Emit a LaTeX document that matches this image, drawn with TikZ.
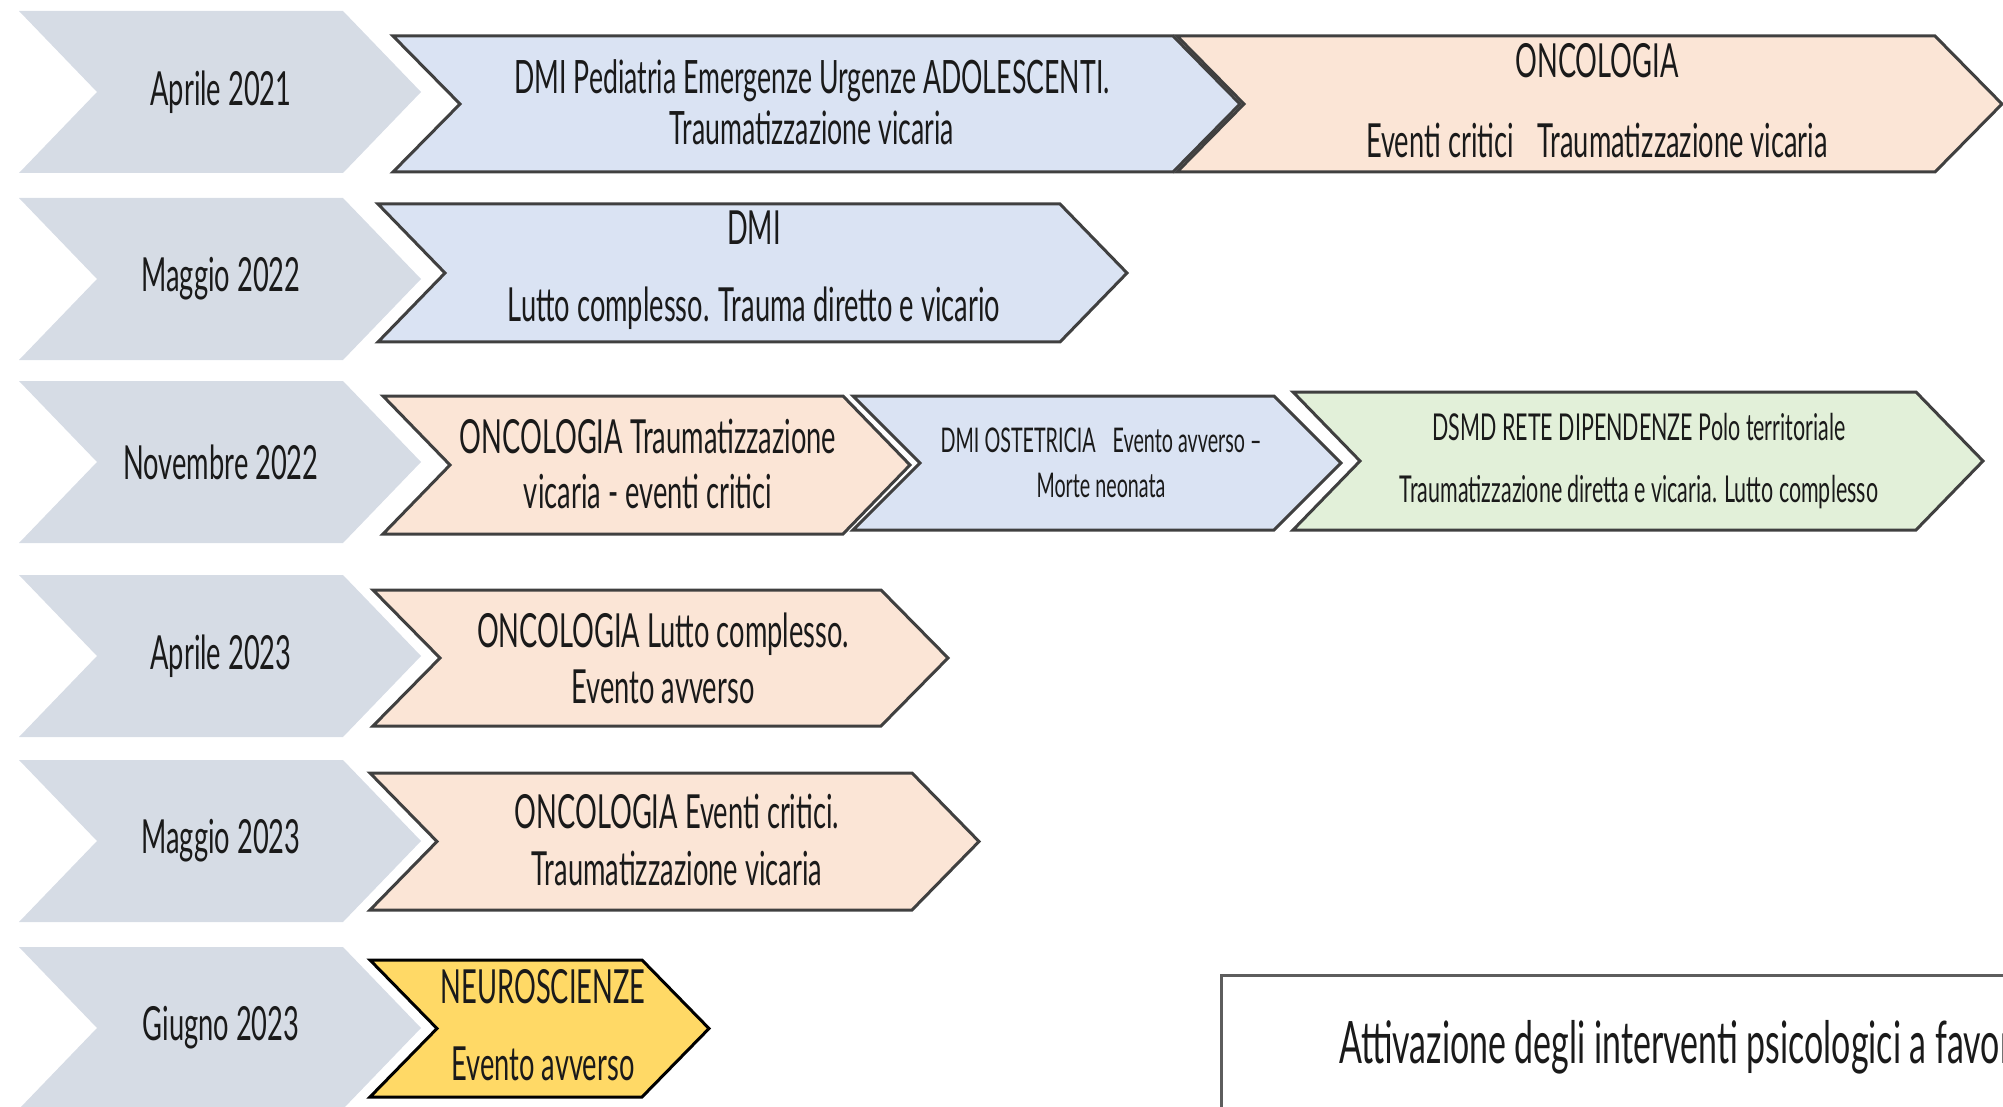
\documentclass[tikz,border=0pt]{standalone}
\usepackage{fontspec}
\setmainfont{Lato}[FakeStretch=0.58]
\definecolor{dategray}{HTML}{D6DCE5}
\definecolor{unitblue}{HTML}{DAE3F3}
\definecolor{unitorange}{HTML}{FBE5D6}
\definecolor{unitgreen}{HTML}{E2F0D9}
\definecolor{unityellow}{HTML}{FFD966}
\definecolor{rimgray}{HTML}{404040}
\definecolor{bodytext}{HTML}{1A1A1A}

\begin{document}
\begin{tikzpicture}[x=1pt, y=-1pt,
    datetext/.style={inner sep=0pt, text=bodytext, font=\fontsize{47}{54}\selectfont},
    boxtext/.style 2 args={inner sep=0pt, align=center, text=bodytext, font=\fontsize{#1}{#2}\selectfont},
    chevbox/.style={line width=3pt, line join=miter}]
    \useasboundingbox (0,0) rectangle (2003,1107);
    \clip (0,0) rectangle (2003,1107);

    % Date chevrons
    \foreach \yc/\lbl [count=\i] in {92/Aprile 2021, 279/Maggio 2022, 462/Novembre 2022, 656/Aprile 2023, 841/Maggio 2023, 1028/Giugno 2023} {
        \fill[dategray] (19,\yc-81) -- (343,\yc-81) -- (421,\yc) -- (343,\yc+81) -- (19,\yc+81) -- (97,\yc) -- cycle;
        \node[datetext] (date\i) at (221,\yc) {\lbl};
    }

    % Unit chevrons
    \foreach \xa/\xb/\ya/\yb/\col/\rim in {1177/2002/36/172/unitorange/rimgray, 393/1240/36/172/unitblue/rimgray,
        378/1127/204/342/unitblue/rimgray,
        1293/1983/392/530/unitgreen/rimgray, 853/1341/396/530/unitblue/rimgray, 383/910/396/534/unitorange/rimgray,
        373/948/590/726/unitorange/rimgray,
        370/979/773/910/unitorange/rimgray,
        370/709/960/1097/unityellow/black} {
        \filldraw[chevbox, fill=\col, draw=\rim] (\xa,\ya) -- (\xb-67,\ya) -- (\xb,{(\ya+\yb)/2}) -- (\xb-67,\yb) -- (\xa,\yb) -- (\xa+67,{(\ya+\yb)/2}) -- cycle;
    }

    % Unit texts
    \node[boxtext={46}{51}] (pediatria) at (812,102) {DMI Pediatria Emergenze Urgenze ADOLESCENTI.\\Traumatizzazione vicaria};
    \node[boxtext={47}{80}] (onco1) at (1597,101) {ONCOLOGIA\\Eventi critici\enspace Traumatizzazione vicaria};
    \node[boxtext={47}{77}] (dmi) at (754,270) {DMI\\Lutto complesso. Trauma diretto e vicario};
    \node[boxtext={47}{55}] (onco2) at (648,464) {ONCOLOGIA Traumatizzazione\\vicaria - eventi critici};
    \node[boxtext={34}{45}] (ostetricia) at (1101,463) {DMI OSTETRICIA\enspace Evento avverso --\\Morte neonata};
    \node[boxtext={37}{62}] (dsmd) at (1639,461) {DSMD RETE DIPENDENZE Polo territoriale\\Traumatizzazione diretta e vicaria. Lutto complesso};
    \node[boxtext={47}{56}] (onco3) at (663,658) {ONCOLOGIA Lutto complesso.\\Evento avverso};
    \node[boxtext={47}{57}] (onco4) at (677,840) {ONCOLOGIA Eventi critici.\\Traumatizzazione vicaria};
    \node[boxtext={47}{77}] (neuro) at (543,1025) {NEUROSCIENZE\\Evento avverso};

    % Note box
    \draw[line width=3pt, draw=rimgray!85] (1221,975) rectangle (2040,1150);
    \node[inner sep=0pt, anchor=base west, text=bodytext, font=\fontsize{58.5}{64}\selectfont] (nota) at (1339,1063) {Attivazione degli interventi psicologici a favore};
\end{tikzpicture}
\end{document}
